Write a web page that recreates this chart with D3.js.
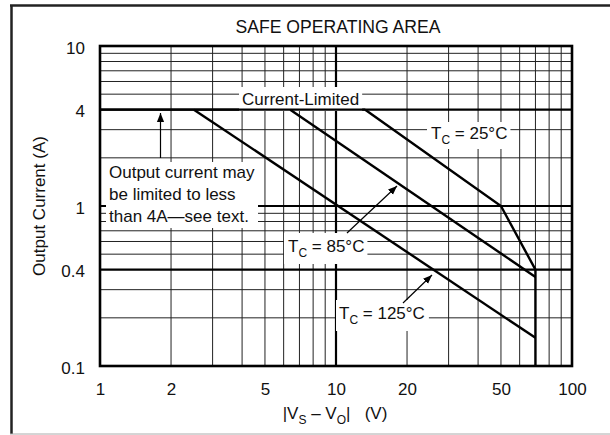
<!DOCTYPE html>
<html><head><meta charset="utf-8">
<script src="https://cdn.jsdelivr.net/npm/d3@7"></script>
<style>
html,body{margin:0;padding:0;background:#fff;}
svg{display:block;font-family:"Liberation Sans",Arial,Helvetica,sans-serif;}
</style></head>
<body><svg id="c" width="610" height="435"></svg>
<script>
// ---- data ----
const xTickVals = [1, 2, 5, 10, 20, 50, 100];
const yTickVals = [0.1, 0.4, 1, 4, 10];
const xGridMinor = [2,3,4,5,6,7,8,9,20,30,40,50,60,70,80,90];
const xGridMajor = [10];
const yGridMinor = [0.2,0.3,0.5,0.6,0.7,0.8,0.9,2,3,5,6,7,8,9];
const yGridMajor = [0.4, 1, 4];
const limitV = [1, 13.3];        const limitI = [4, 4];
const tc25V  = [13.3, 50, 70, 70]; const tc25I  = [4, 1, 0.4, 0.1];
const tc85V  = [6.4, 70];        const tc85I  = [4, 0.36];
const tc125V = [2.5, 70];        const tc125I = [4, 0.15];

const svg = d3.select('#c');
const FS = 17;
const x = d3.scaleLog().domain([1, 100]).range([100, 572]);
const y = d3.scaleLog().domain([0.1, 10]).range([366, 46]);

// outer frame
svg.append('line').attr('x1',11.5).attr('y1',5).attr('x2',11.5).attr('y2',434).attr('stroke','#222').attr('stroke-width',2.5);
svg.append('line').attr('x1',10).attr('y1',5.5).attr('x2',610).attr('y2',5.5).attr('stroke','#222').attr('stroke-width',2.5);
svg.append('line').attr('x1',10).attr('y1',434).attr('x2',610).attr('y2',434).attr('stroke','#aaa').attr('stroke-width',1);

// title
svg.append('text').attr('x',338).attr('y',33).attr('text-anchor','middle').attr('font-size',17.6).attr('fill','#111').text('SAFE OPERATING AREA');

// grid
const g = svg.append('g');
g.selectAll('.vx').data(xGridMinor).join('line')
  .attr('x1',d=>x(d)).attr('x2',d=>x(d)).attr('y1',y(10)).attr('y2',y(0.1))
  .attr('stroke','#222').attr('stroke-width',1);
g.selectAll('.vy').data(yGridMinor).join('line')
  .attr('y1',d=>y(d)).attr('y2',d=>y(d)).attr('x1',x(1)).attr('x2',x(100))
  .attr('stroke','#222').attr('stroke-width',1);
g.selectAll('.mx').data(xGridMajor).join('line')
  .attr('x1',d=>x(d)).attr('x2',d=>x(d)).attr('y1',y(10)).attr('y2',y(0.1))
  .attr('stroke','#000').attr('stroke-width',2.2);
g.selectAll('.my').data(yGridMajor).join('line')
  .attr('y1',d=>y(d)).attr('y2',d=>y(d)).attr('x1',x(1)).attr('x2',x(100))
  .attr('stroke','#000').attr('stroke-width',2.2);

// axes (labels only)
const ax = svg.append('g').attr('transform',`translate(0,${y(0.1)})`)
  .call(d3.axisBottom(x).tickValues(xTickVals).tickFormat(d=>String(d)).tickSize(0).tickPadding(17));
const ay = svg.append('g').attr('transform',`translate(${x(1)},0)`)
  .call(d3.axisLeft(y).tickValues(yTickVals).tickFormat(d=>String(d)).tickSize(0).tickPadding(15));
[ax, ay].forEach(a => {
  a.select('.domain').remove();
  a.selectAll('text').attr('font-size',FS).attr('font-family','"Liberation Sans",Arial,sans-serif').attr('fill','#111');
});
ay.selectAll('text').attr('dy','0.42em');

// axis titles
svg.append('text').attr('transform','translate(45,206) rotate(-90)').attr('text-anchor','middle')
  .attr('font-size',FS).attr('fill','#111').text('Output Current (A)');
const xl = svg.append('text').attr('x',335).attr('y',419).attr('text-anchor','middle')
  .attr('font-size',FS).attr('fill','#111').style('white-space','pre');
xl.append('tspan').text('|V');
xl.append('tspan').attr('font-size',12).attr('dy',5).text('S');
xl.append('tspan').attr('dy',-5).text(' \u2013 V');
xl.append('tspan').attr('font-size',12).attr('dy',5).text('O');
xl.append('tspan').attr('dy',-5).text('|   (V)');

// annotation helper
const ann = svg.append('g');
function label(xp, yp, build, pad) {
  const bg = ann.append('rect').attr('fill','#fff');
  const t = ann.append('text').attr('x',xp).attr('y',yp).attr('font-size',FS).attr('fill','#111');
  build(t);
  const b = t.node().getBBox();
  bg.attr('x',b.x-pad[3]).attr('y',b.y-pad[0]).attr('width',b.width+pad[1]+pad[3]).attr('height',b.height+pad[0]+pad[2]);
  return t;
}
function tcLabel(t, temp) {
  t.append('tspan').text('T');
  t.append('tspan').attr('font-size',12).attr('dy',5).text('C');
  t.append('tspan').attr('dy',-5).text(' = ' + temp + '\u00B0C');
}

// curves
const line = d3.line().x(d=>x(d[0])).y(d=>y(d[1]));
const curves = [
  d3.zip(limitV, limitI), d3.zip(tc25V, tc25I), d3.zip(tc85V, tc85I), d3.zip(tc125V, tc125I)
];

// text boxes (white background hides grid)
label(242, 105, t => t.text('Current-Limited'), [3,3,2,3]);
label(431, 139, t => tcLabel(t,'25'), [2,3,2,4]);
label(288, 252, t => tcLabel(t,'85'), [4,3,4,4]);
label(339, 319, t => tcLabel(t,'125'), [4,4,4,3]);
const note = ann.append('g');
const nbg = note.append('rect').attr('fill','#fff');
const nt = note.append('text').attr('font-size',FS).attr('fill','#111');
['Output current may','be limited to less','than 4A\u2014see text.'].forEach((s,i)=>{
  nt.append('tspan').attr('x',109).attr('y',178 + i*22).text(s);
});
const nb = nt.node().getBBox();
nbg.attr('x',nb.x-3).attr('y',nb.y-1).attr('width',nb.width+6).attr('height',nb.height+3);

svg.append('g').selectAll('path').data(curves).join('path')
  .attr('d', line).attr('fill','none').attr('stroke','#000').attr('stroke-width',2.4).attr('stroke-linejoin','miter');

// plot border
svg.append('rect').attr('x',x(1)).attr('y',y(10)).attr('width',x(100)-x(1)).attr('height',y(0.1)-y(10))
  .attr('fill','none').attr('stroke','#000').attr('stroke-width',2.6);

// arrows
const defs = svg.append('defs');
defs.append('marker').attr('id','ah').attr('viewBox','0 0 10 10').attr('refX',10).attr('refY',5)
  .attr('markerWidth',9).attr('markerHeight',9).attr('markerUnits','userSpaceOnUse').attr('orient','auto')
  .append('path').attr('d','M0,1 L10,5 L0,9 Z').attr('fill','#000');
const arrows = [[160.5,158,160.5,113],[347,233,397,186],[403,303,432,275]];
svg.append('g').selectAll('line').data(arrows).join('line')
  .attr('x1',d=>d[0]).attr('y1',d=>d[1]).attr('x2',d=>d[2]).attr('y2',d=>d[3])
  .attr('stroke','#000').attr('stroke-width',1.2).attr('marker-end','url(#ah)');
</script></body></html>
